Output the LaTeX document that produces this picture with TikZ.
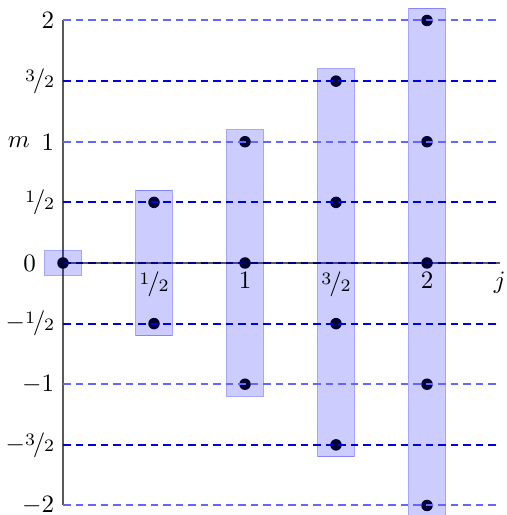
\documentclass[tikz,border=0pt]{standalone}
\usetikzlibrary{positioning}
\newcommand\hfr[2]{\raisebox{0.55ex}{\scriptsize#1}\kern-0.08em/\kern-0.05em\raisebox{-0.05ex}{\scriptsize#2}}
\tikzset{
  dot/.style={circle,fill=black,minimum size=4.6pt,inner sep=0pt},
  multbox/.style={fill=blue,fill opacity=0.2,draw=blue,draw opacity=0.35,line width=0.4pt},
  intline/.style={blue!60,dash pattern=on 3pt off 2pt,line width=0.8pt},
  zeroline/.style={blue!50!black,dash pattern=on 3pt off 2pt,line width=0.8pt},
  halfline/.style={blue!90!black,dash pattern=on 3pt off 2pt,line width=0.8pt},
  axis/.style={black!65,line width=0.8pt},
}
\begin{document}
\begin{tikzpicture}[x=72.8pt,y=48.5pt]
\useasboundingbox (-0.3462,-2.0784) rectangle (2.4341,2.169);
% axes
\coordinate (o) at (0,0);
\coordinate (ytop) at (0,2);
\coordinate (ybot) at (0,-2);
\coordinate (xend) at (2.4,0);
\draw[axis] (ybot) -- (ytop);
\draw[axis] (o) -- (xend);
% dots
\foreach \j/\n in {0/0,0.5/1,1/2,1.5/3,2/4}{
  \foreach \k in {0,...,\n}{
    \pgfmathsetmacro\mm{\j-\k}
    \node[dot] (d\n-\k) at (\j,\mm) {};
  }
}
% boxes
\foreach \j in {0,0.5,1,1.5,2}{
  \path[multbox] (\j-0.1,-\j-0.1) rectangle (\j+0.1,\j+0.1);
}
% dashed lines
\foreach \m in {-2,-1,1,2}{
  \coordinate (ls\m) at (0,\m);
  \coordinate (le\m) at (2.4,\m);
  \draw[intline] (ls\m) -- (le\m);
}
\draw[zeroline] (o) -- (xend);
\foreach \m/\q in {-1.5/a,-0.5/b,0.5/c,1.5/d}{
  \coordinate (hs\q) at (0,\m);
  \coordinate (he\q) at (2.4,\m);
  \draw[halfline] (hs\q) -- (he\q);
}
% y labels
\node[left] (l2) at (0,2) {2};
\node[left] (l32) at (0,1.5) {\hfr{3}{2}};
\node[left] (l1) at (0,1) {1};
\node[left=0pt of l1,inner sep=1pt] (mlab) {$m$};
\node[left] (l12) at (0,0.5) {\hfr{1}{2}};
\node[left] (l0) at (-0.1,0) {0};
\node[left] (lm12) at (0,-0.5) {$-$\hfr{1}{2}};
\node[left] (lm1) at (0,-1) {$-1$};
\node[left] (lm32) at (0,-1.5) {$-$\hfr{3}{2}};
\node[left] (lm2) at (0,-2) {$-2$};
% x labels
\node[below] (x12) at (0.5,0) {\hfr{1}{2}};
\node[below] (x1) at (1,0) {1};
\node[below] (x32) at (1.5,0) {\hfr{3}{2}};
\node[below] (x2) at (2,0) {2};
\node[below] (jlab) at (xend) {$j$};
\end{tikzpicture}
\end{document}
